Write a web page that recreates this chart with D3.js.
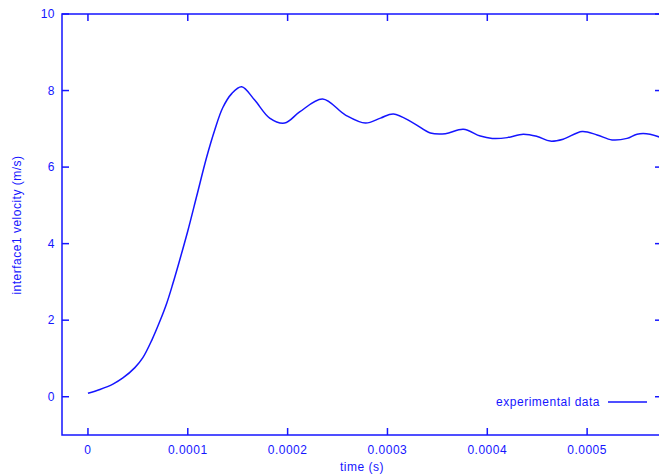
<!DOCTYPE html>
<html>
<head>
<meta charset="utf-8">
<script src="https://cdn.jsdelivr.net/npm/d3@7"></script>
<style>
  html, body { margin: 0; padding: 0; background: #fff; overflow: hidden; }
  text { font-family: "Liberation Sans", Arial, sans-serif; font-size: 12px; fill: #1515ff; letter-spacing: 0.5px; }
</style>
</head>
<body>
<svg id="chart" width="659" height="476"></svg>
<script>
// Data (time in s, velocity in m/s)
const timeValues = [
  0, 1.2e-5, 2.5e-5, 3.5e-5, 4.7e-5, 5.5e-5, 6.4e-5, 7.2e-5, 7.9e-5, 8.5e-5,
  9.2e-5, 1.0e-4, 1.09e-4, 1.19e-4, 1.27e-4, 1.35e-4, 1.44e-4, 1.54e-4,
  1.67e-4, 1.82e-4, 1.97e-4, 2.12e-4, 2.35e-4, 2.58e-4, 2.78e-4, 2.93e-4, 3.06e-4,
  3.26e-4, 3.43e-4, 3.58e-4, 3.76e-4, 3.93e-4, 4.05e-4, 4.20e-4, 4.36e-4, 4.50e-4,
  4.63e-4, 4.76e-4, 4.95e-4, 5.10e-4, 5.25e-4, 5.40e-4, 5.50e-4, 5.63e-4, 5.75e-4
];
const velocityValues = [
  0.09, 0.19, 0.33, 0.49, 0.76, 1.02, 1.48, 1.97, 2.45, 2.95,
  3.58, 4.33, 5.25, 6.27, 6.97, 7.55, 7.92, 8.10,
  7.75, 7.28, 7.15, 7.44, 7.78, 7.36, 7.15, 7.28, 7.39,
  7.15, 6.89, 6.87, 6.99, 6.81, 6.75, 6.77, 6.86, 6.80,
  6.68, 6.73, 6.93, 6.84, 6.71, 6.75, 6.86, 6.86, 6.76
];
const xTicks = [0, 0.0001, 0.0002, 0.0003, 0.0004, 0.0005];
const xTickLabels = ["0", "0.0001", "0.0002", "0.0003", "0.0004", "0.0005"];
const yTicks = [0, 2, 4, 6, 8, 10];
const seriesName = "experimental data";

const blue = "#1515ff";
const svg = d3.select("#chart");

// Plot frame in pixels
const plotLeft = 62, plotRight = 662, plotTop = 14, plotBottom = 435;

const x = d3.scaleLinear().domain([-0.26e-4, 5.75e-4]).range([plotLeft, plotRight]);
const y = d3.scaleLinear().domain([-1, 10]).range([plotBottom, plotTop]);

// Frame
svg.append("rect")
  .attr("x", plotLeft).attr("y", plotTop)
  .attr("width", plotRight - plotLeft).attr("height", plotBottom - plotTop)
  .attr("fill", "none").attr("stroke", blue).attr("stroke-width", 1.5);

// Inward ticks on all four sides
const tickLen = 7;
const g = svg.append("g").attr("stroke", blue).attr("stroke-width", 1.5);
xTicks.forEach(t => {
  g.append("line").attr("x1", x(t)).attr("x2", x(t)).attr("y1", plotBottom).attr("y2", plotBottom - tickLen);
  g.append("line").attr("x1", x(t)).attr("x2", x(t)).attr("y1", plotTop).attr("y2", plotTop + tickLen);
});
yTicks.forEach(v => {
  g.append("line").attr("x1", plotLeft).attr("x2", plotLeft + tickLen).attr("y1", y(v)).attr("y2", y(v));
  g.append("line").attr("x1", plotRight).attr("x2", plotRight - tickLen).attr("y1", y(v)).attr("y2", y(v));
});

// Tick labels
svg.append("g").selectAll("text").data(xTicks).join("text")
  .attr("x", d => x(d)).attr("y", 454)
  .attr("text-anchor", "middle")
  .text((d, i) => xTickLabels[i]);

svg.append("g").selectAll("text").data(yTicks).join("text")
  .attr("x", 55).attr("y", d => y(d) + 4)
  .attr("text-anchor", "end")
  .text(d => d);

// Axis titles
svg.append("text")
  .attr("x", 362).attr("y", 471)
  .attr("text-anchor", "middle")
  .text("time (s)");

svg.append("text")
  .attr("transform", "translate(21,225) rotate(-90)")
  .attr("text-anchor", "middle")
  .text("interface1 velocity (m/s)");

// Data line
const points = timeValues.map((t, i) => [t, velocityValues[i]]);
const line = d3.line()
  .x(d => x(d[0]))
  .y(d => y(d[1]))
  .curve(d3.curveCatmullRom.alpha(0.5));

svg.append("path")
  .datum(points)
  .attr("d", line)
  .attr("fill", "none")
  .attr("stroke", blue)
  .attr("stroke-width", 1.5);

// Legend
svg.append("text")
  .attr("x", 600).attr("y", 406)
  .attr("text-anchor", "end")
  .text(seriesName);
svg.append("line")
  .attr("x1", 608).attr("x2", 647)
  .attr("y1", 402).attr("y2", 402)
  .attr("stroke", blue).attr("stroke-width", 1.5);
</script>
</body>
</html>
